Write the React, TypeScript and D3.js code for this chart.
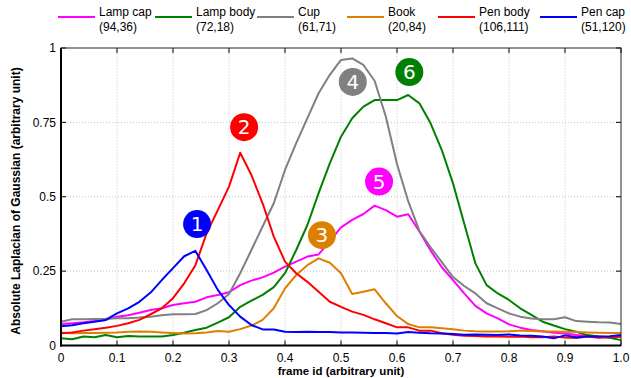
import * as d3 from "d3";

// frame positions 0, 0.02, ..., 1.0
const frames = d3.range(51).map((i) => i / 50);

const lampCap = [
  0.072, 0.075, 0.078, 0.082, 0.086, 0.097, 0.102, 0.11, 0.119, 0.125, 0.136, 0.142, 0.147, 0.162,
  0.17, 0.179, 0.203, 0.218, 0.229, 0.245, 0.265, 0.282, 0.299, 0.306, 0.35,
  0.397, 0.422, 0.442, 0.47, 0.455, 0.433, 0.441, 0.383, 0.319, 0.263, 0.22, 0.175,
  0.133, 0.108, 0.091, 0.071, 0.06, 0.052, 0.048, 0.043, 0.04, 0.035, 0.033, 0.03, 0.028, 0.03,
];
const lampBody = [
  0.024, 0.021, 0.03, 0.028, 0.035, 0.028, 0.032, 0.03, 0.03, 0.03, 0.035, 0.043, 0.052, 0.06,
  0.077, 0.095, 0.13, 0.151, 0.17, 0.196, 0.243, 0.321, 0.405, 0.512, 0.612,
  0.702, 0.764, 0.803, 0.825, 0.825, 0.825, 0.842, 0.814, 0.747, 0.657, 0.545, 0.41,
  0.276, 0.203, 0.175, 0.153, 0.125, 0.103, 0.08, 0.067, 0.055, 0.046, 0.035, 0.03, 0.026, 0.018,
];
const cup = [
  0.08, 0.088, 0.088, 0.089, 0.09, 0.092, 0.092, 0.094, 0.097, 0.102, 0.105, 0.105, 0.106, 0.119,
  0.142, 0.173, 0.243, 0.321, 0.4, 0.478, 0.59, 0.68, 0.764, 0.848, 0.91,
  0.96, 0.965, 0.943, 0.89, 0.77, 0.61, 0.485, 0.385, 0.33, 0.28, 0.23, 0.2,
  0.175, 0.142, 0.125, 0.108, 0.097, 0.091, 0.088, 0.088, 0.095, 0.082, 0.08, 0.078, 0.077, 0.072,
];
const book = [
  0.043, 0.041, 0.042, 0.042, 0.043, 0.044, 0.046, 0.047, 0.046, 0.044, 0.042, 0.04, 0.041, 0.044,
  0.049, 0.046, 0.055, 0.067, 0.086, 0.125, 0.192, 0.237, 0.27, 0.293, 0.278,
  0.243, 0.173, 0.181, 0.189, 0.142, 0.099, 0.072, 0.061, 0.061, 0.058, 0.055, 0.05,
  0.048, 0.047, 0.047, 0.048, 0.05, 0.049, 0.047, 0.047, 0.046, 0.045, 0.044, 0.043, 0.042, 0.042,
];
const penBody = [
  0.041, 0.044, 0.05, 0.055, 0.06, 0.066, 0.075, 0.086, 0.105, 0.125, 0.159, 0.209, 0.27,
  0.377, 0.455, 0.534, 0.648, 0.573, 0.478, 0.366, 0.282, 0.243, 0.214, 0.181, 0.147,
  0.13, 0.114, 0.103, 0.088, 0.075, 0.061, 0.061, 0.05, 0.05, 0.041, 0.036,
  0.033, 0.032, 0.03, 0.03, 0.029, 0.03, 0.028, 0.028, 0.03, 0.027, 0.025, 0.03, 0.026, 0.028, 0.03,
];
const penCap = [
  0.065, 0.068, 0.075, 0.08, 0.086, 0.108, 0.125, 0.147, 0.178, 0.22, 0.26, 0.3, 0.318,
  0.254, 0.187, 0.136, 0.097, 0.069, 0.054, 0.054, 0.046,
  0.045, 0.046, 0.045, 0.045, 0.044, 0.044, 0.043, 0.042, 0.042, 0.04,
  0.045, 0.043, 0.041, 0.04, 0.039, 0.036, 0.037, 0.036, 0.035, 0.037,
  0.034, 0.033, 0.03, 0.024, 0.034, 0.028, 0.03, 0.03, 0.031, 0.035,
];

const names = ["Lamp cap", "Lamp body", "Cup", "Book", "Pen body", "Pen cap"];
const legendSub = ["(94,36)", "(72,18)", "(61,71)", "(20,84)", "(106,111)", "(51,120)"];
const colors = ["#ff00ff", "#008000", "#808080", "#dd8000", "#ff0000", "#0000ff"];
const seriesValues = [lampCap, lampBody, cup, book, penBody, penCap];

// numbered markers: label, x, y (data units), colour index
const markerLabels = ["1", "2", "3", "4", "5", "6"];
const markerX = [0.243, 0.327, 0.466, 0.521, 0.568, 0.622];
const markerY = [0.408, 0.734, 0.371, 0.886, 0.551, 0.919];
const markerColor = [5, 4, 3, 2, 0, 1];

const xTicks = d3.range(11).map((i) => i / 10);
const xTickLabels = ["0", "0.1", "0.2", "0.3", "0.4", "0.5", "0.6", "0.7", "0.8", "0.9", "1.0"];
const yTicks = [0, 0.25, 0.5, 0.75, 1];
const yTickLabels = ["0", "0.25", "0.5", "0.75", "1"];

const W = 631;
const H = 378;
const font = "'Liberation Sans', Arial, sans-serif";

export default function App() {
  const x = d3.scaleLinear().domain([0, 1]).range([61, 621]);
  const y = d3.scaleLinear().domain([0, 1]).range([345.5, 48]);
  const line = d3
    .line<number>()
    .x((_, i) => x(frames[i]))
    .y((d) => y(d));

  const legendX = [58, 155, 257, 347, 438, 540];

  return (
    <div style={{ position: "absolute", left: 0, top: 0 }}>
      <svg width={W} height={H} style={{ display: "block", fontFamily: font }}>
        <rect width={W} height={H} fill="#fff" />

        {/* grid */}
        {xTicks.slice(1, -1).map((t) => (
          <line key={"gx" + t} x1={x(t)} x2={x(t)} y1={y(0)} y2={y(1)} stroke="#c4c4c4" strokeDasharray="1,2" />
        ))}
        {yTicks.slice(1, -1).map((t) => (
          <line key={"gy" + t} x1={x(0)} x2={x(1)} y1={y(t)} y2={y(t)} stroke="#c4c4c4" strokeDasharray="1,2" />
        ))}

        {/* ticks inside on all four sides */}
        {xTicks.map((t) => (
          <g key={"tx" + t} stroke="#000">
            <line x1={x(t)} x2={x(t)} y1={y(0)} y2={y(0) - 5} />
            <line x1={x(t)} x2={x(t)} y1={y(1)} y2={y(1) + 5} />
          </g>
        ))}
        {yTicks.map((t) => (
          <g key={"ty" + t} stroke="#000">
            <line x1={x(0)} x2={x(0) + 5} y1={y(t)} y2={y(t)} />
            <line x1={x(1)} x2={x(1) - 5} y1={y(t)} y2={y(t)} />
          </g>
        ))}

        {/* curves */}
        {seriesValues.map((vals, i) => (
          <path key={names[i]} d={line(vals) || ""} fill="none" stroke={colors[i]} strokeWidth={2} strokeLinejoin="round" />
        ))}

        {/* frame */}
        <rect x={x(0)} y={y(1)} width={x(1) - x(0)} height={y(0) - y(1)} fill="none" stroke="#222" strokeWidth={1} />
        <line x1={x(0)} x2={x(0)} y1={y(1)} y2={y(0) + 1} stroke="#000" strokeWidth={2} />
        <line x1={x(0) - 1} x2={x(1)} y1={y(0)} y2={y(0)} stroke="#000" strokeWidth={2} />

        {/* markers */}
        {markerLabels.map((m, i) => (
          <g key={"m" + m} transform={`translate(${x(markerX[i])},${y(markerY[i])})`}>
            <circle r={14} fill={colors[markerColor[i]]} />
            <text textAnchor="middle" dy="0.36em" fill="#fff" fontSize={20} fontFamily="'DejaVu Sans', sans-serif">
              {m}
            </text>
          </g>
        ))}

        {/* tick labels */}
        {xTicks.map((t, i) => (
          <text key={"lx" + t} x={x(t)} y={362} textAnchor="middle" fontSize={12}>
            {xTickLabels[i]}
          </text>
        ))}
        {yTicks.map((t, i) => (
          <text key={"ly" + t} x={56} y={y(t)} dy="0.35em" textAnchor="end" fontSize={12}>
            {yTickLabels[i]}
          </text>
        ))}

        {/* axis titles */}
        <text x={341} y={374.5} textAnchor="middle" fontSize={11.5} fontWeight="bold">
          frame id (arbitrary unit)
        </text>
        <text transform="translate(20,201) rotate(-90)" textAnchor="middle" fontSize={12} fontWeight="bold">
          Absolute Laplacian of Gaussian (arbitrary unit)
        </text>

        {/* legend */}
        {names.map((n, i) => (
          <g key={"lg" + n} transform={`translate(${legendX[i]},0)`}>
            <line x1={0} x2={37} y1={17} y2={17} stroke={colors[i]} strokeWidth={2} />
            <text x={41} y={16} fontSize={12}>
              {n}
            </text>
            <text x={41} y={31} fontSize={12}>
              {legendSub[i]}
            </text>
          </g>
        ))}
      </svg>
    </div>
  );
}
